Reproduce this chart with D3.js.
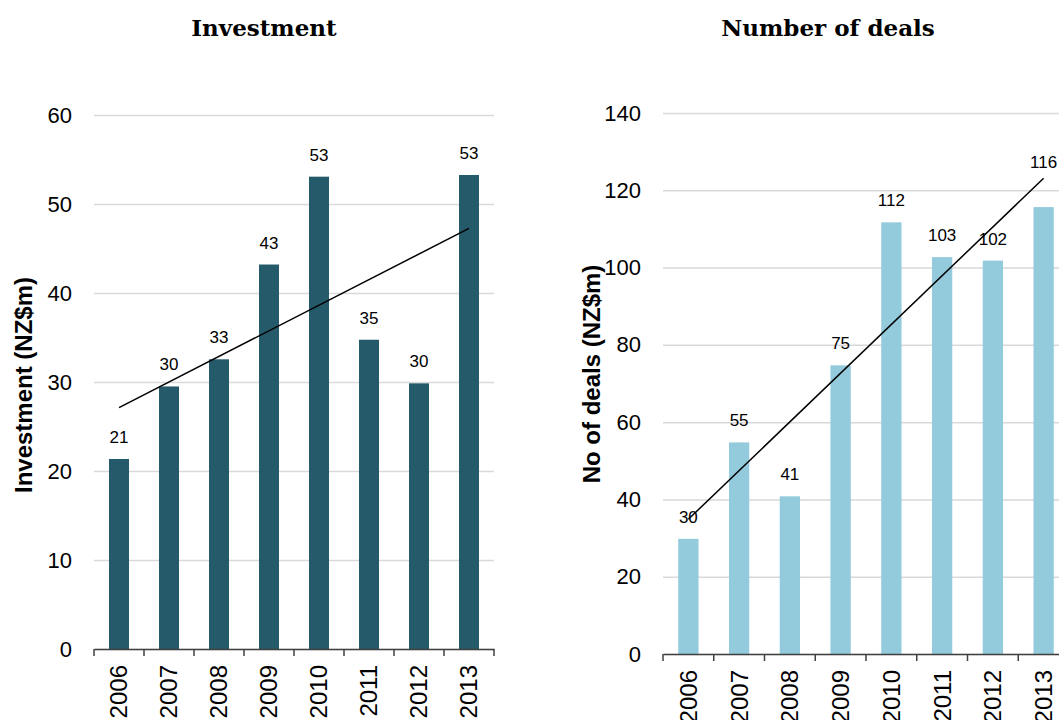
<!DOCTYPE html>
<html>
<head>
<meta charset="utf-8">
<script src="https://cdn.jsdelivr.net/npm/d3@7"></script>
<style>
  body { margin: 0; background: #fff; }
  svg { display: block; font-family: "Liberation Sans", Arial, sans-serif; }
  .grid line { stroke: #d9d9d9; stroke-width: 1.5; }
  .grid text { fill: #000; }
</style>
</head>
<body>
<svg width="1059" height="720"></svg>
<script>
// data
const years = ['2006', '2007', '2008', '2009', '2010', '2011', '2012', '2013'];
const investment = [21.35, 29.5, 32.55, 43.2, 53.07, 34.75, 29.85, 53.26];
const deals = [29.8, 54.75, 40.8, 74.7, 111.7, 102.7, 101.8, 115.65];
const investTicks = [0, 10, 20, 30, 40, 50, 60];
const dealTicks = [0, 20, 40, 60, 80, 100, 120, 140];

var svg = d3.select('svg');

// simple least squares line over the category index
function trend(vals) {
  var n = vals.length, mx = (n - 1) / 2, my = d3.mean(vals);
  var sxy = 0, sxx = 0;
  vals.forEach(function(v, i) { sxy += (i - mx) * v; sxx += (i - mx) * (i - mx); });
  var b = sxy / sxx, a = my - b * mx;
  return [a, a + b * (n - 1)];
}

function drawChart(opts) {
  var g = svg.append('g');

  var x = d3.scaleBand()
    .domain(years)
    .range([opts.left, opts.right])
    .paddingInner(0.6)
    .paddingOuter(0.3);

  var y = d3.scaleLinear()
    .domain([0, opts.ticks[opts.ticks.length - 1]])
    .range([opts.bottom, opts.top]);

  // title
  g.append('text')
    .attr('x', opts.titleX)
    .attr('y', 36)
    .attr('text-anchor', 'middle')
    .style('font-family', '"DejaVu Serif", serif')
    .style('font-weight', 'bold')
    .style('font-size', '23px')
    .text(opts.title);

  // y axis with gridlines
  var yAxis = g.append('g')
    .attr('class', 'grid')
    .attr('transform', 'translate(' + opts.left + ',0)')
    .call(d3.axisLeft(y)
      .tickValues(opts.ticks)
      .tickSize(-(opts.right - opts.left))
      .tickPadding(22));
  yAxis.select('.domain').remove();
  yAxis.selectAll('text').style('font-size', '22px');

  // y axis title
  g.append('text')
    .attr('transform', 'translate(' + opts.yTitleX + ',' + opts.yTitleY + ') rotate(-90)')
    .attr('text-anchor', 'middle')
    .attr('dy', '0.35em')
    .style('font-weight', 'bold')
    .style('font-size', '24px')
    .text(opts.yTitle);

  // bars
  g.selectAll('rect.bar')
    .data(opts.values)
    .enter()
    .append('rect')
    .attr('class', 'bar')
    .attr('x', function(d, i) { return x(years[i]); })
    .attr('y', function(d) { return y(d); })
    .attr('width', x.bandwidth())
    .attr('height', function(d) { return y(0) - y(d); })
    .attr('fill', opts.color);

  // x axis
  var xAxis = g.append('g')
    .attr('transform', 'translate(0,' + opts.bottom + ')')
    .call(d3.axisBottom(x).tickSize(0).tickPadding(0));
  xAxis.select('.domain')
    .attr('stroke', '#404040')
    .attr('stroke-width', 1.5);
  xAxis.selectAll('.tick text')
    .attr('transform', 'rotate(-90)')
    .attr('x', -16)
    .attr('y', 0)
    .attr('dy', '0.35em')
    .attr('text-anchor', 'end')
    .style('font-size', '24px')
    .attr('fill', '#000');

  // tick marks between the categories
  var edges = d3.range(years.length + 1);
  xAxis.selectAll('line.edge')
    .data(edges)
    .enter()
    .append('line')
    .attr('class', 'edge')
    .attr('x1', function(i) { return opts.left + i * x.step(); })
    .attr('x2', function(i) { return opts.left + i * x.step(); })
    .attr('y1', 0)
    .attr('y2', 7)
    .attr('stroke', '#404040')
    .attr('stroke-width', 1.5);

  // linear trendline
  var t = trend(opts.values);
  var cx = function(i) { return x(years[i]) + x.bandwidth() / 2; };
  g.append('line')
    .attr('x1', cx(0))
    .attr('y1', y(t[0]))
    .attr('x2', cx(years.length - 1))
    .attr('y2', y(t[1]))
    .attr('stroke', '#000')
    .attr('stroke-width', 1.5);

  // value labels
  g.selectAll('text.lab')
    .data(opts.values)
    .enter()
    .append('text')
    .attr('class', 'lab')
    .attr('x', function(d, i) { return cx(i); })
    .attr('y', function(d, i) { return y(d) - 16 - (opts.liftLast && i === years.length - 1 ? 23 : 0); })
    .attr('text-anchor', 'middle')
    .style('font-size', '17px')
    .text(function(d) { return Math.round(d); });
}

drawChart({
  title: 'Investment', titleX: 264,
  yTitle: 'Investment (NZ$m)', yTitleX: 24, yTitleY: 385,
  values: investment, ticks: investTicks,
  left: 94, right: 494, top: 115, bottom: 649,
  color: '#245a69', liftLast: false
});

drawChart({
  title: 'Number of deals', titleX: 828,
  yTitle: 'No of deals (NZ$m)', yTitleX: 592, yTitleY: 374,
  values: deals, ticks: dealTicks,
  left: 663, right: 1069, top: 113, bottom: 654,
  color: '#93cadc', liftLast: true
});
</script>
</body>
</html>
